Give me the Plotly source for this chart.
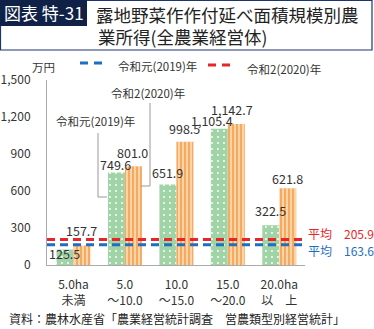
import plotly.graph_objects as go

categories = ["5.0ha<br>未満", "5.0<br>～10.0", "10.0<br>～15.0", "15.0<br>～20.0", "20.0ha<br>以　上"]
values_2019 = [125.5, 749.6, 651.9, 1105.4, 322.5]
values_2020 = [157.7, 801.0, 998.5, 1142.7, 621.8]
avg_2019 = 163.6
avg_2020 = 205.9
y_ticks = [0, 300, 600, 900, 1200, 1500]
y_ticktext = ["0", "300", "600", "900", "1,200", "1,500"]

W, H = 374, 329
L, R, T, B = 47, 305, 80, 265
FONT = "Noto Sans CJK JP"
TXT = "#333333"
BLUE = "#1f6fc0"
RED = "#e8262a"

def px(x):
    return (x - L) / (R - L)

def py(y):
    return (B - y) / (B - T)

fig = go.Figure()
fig.add_bar(x=categories, y=values_2019, name="令和元(2019)年",
            marker=dict(color="#a0d4a6", line=dict(width=0),
                        pattern=dict(shape=".", fgcolor="white", bgcolor="#a0d4a6",
                                     size=6, solidity=0.08, fillmode="replace")))
fig.add_bar(x=categories, y=values_2020, name="令和2(2020)年",
            marker=dict(color="#fbcf9f", line=dict(width=0),
                        pattern=dict(shape="|", fgcolor="#f5a55a", bgcolor="#fcd4a6",
                                     size=4, solidity=0.45, fillmode="replace")))

shapes = []
annos = []

def note(**kw):
    kw.setdefault("showarrow", False)
    kw.setdefault("xanchor", "center")
    kw.setdefault("yanchor", "middle")
    annos.append(kw)

# average dashed lines
for v, c in [(avg_2020, RED), (avg_2019, BLUE)]:
    shapes.append(dict(type="line", xref="paper", yref="y", x0=0, x1=px(307), y0=v, y1=v,
                       line=dict(color=c, width=3, dash="8px,5px")))
note(xref="paper", yref="y", x=px(306), y=avg_2020, yshift=6, xanchor="left",
     text="平均　205.9", font=dict(color=RED, size=12, family=FONT))
note(xref="paper", yref="y", x=px(306), y=avg_2019, yshift=-6, xanchor="left",
     text="平均　163.6", font=dict(color=BLUE, size=12, family=FONT))

# value labels: (xshift, yshift above top)
off19 = [(-9, -4), (-9, 8), (-9, 12), (-16, 8), (-9, 15)]
off20 = [(8, 15), (8, 14), (8, 13), (4, 15), (8, 10)]
for i, cat in enumerate(categories):
    note(x=cat, y=values_2019[i], xshift=off19[i][0], yshift=off19[i][1],
         text=f"{values_2019[i]:,.1f}", font=dict(size=12.5, color=TXT, family=FONT))
    note(x=cat, y=values_2020[i], xshift=off20[i][0], yshift=off20[i][1],
         text=f"{values_2020[i]:,.1f}", font=dict(size=12.5, color=TXT, family=FONT))

# callouts
grey = "#999999"
shapes.append(dict(type="path", xref="paper", yref="paper",
                   path=f"M {px(98)},{py(133)} L {px(98)},{py(197)} L {px(107)},{py(197)}",
                   line=dict(color=grey, width=1)))
shapes.append(dict(type="path", xref="paper", yref="paper",
                   path=f"M {px(150)},{py(103)} L {px(150)},{py(186)} L {px(141)},{py(186)}",
                   line=dict(color=grey, width=1)))
note(xref="paper", yref="paper", x=px(95), y=py(121), text="令和元(2019)年",
     font=dict(size=11.5, color=TXT, family=FONT))
note(xref="paper", yref="paper", x=px(147.5), y=py(93), text="令和2(2020)年",
     font=dict(size=11.5, color=TXT, family=FONT))

# legend
shapes.append(dict(type="line", xref="paper", yref="paper", x0=px(80), x1=px(104), y0=py(63), y1=py(63),
                   line=dict(color=BLUE, width=3, dash="8px,6px")))
shapes.append(dict(type="line", xref="paper", yref="paper", x0=px(208), x1=px(232), y0=py(65), y1=py(65),
                   line=dict(color=RED, width=3, dash="8px,6px")))
note(xref="paper", yref="paper", x=px(116), y=py(66), xanchor="left", text="令和元(2019)年",
     font=dict(size=11.5, color=TXT, family=FONT))
note(xref="paper", yref="paper", x=px(245), y=py(69), xanchor="left", text="令和2(2020)年",
     font=dict(size=11.5, color=TXT, family=FONT))
note(xref="paper", yref="paper", x=px(43), y=py(67), text="万円",
     font=dict(size=11.5, color=TXT, family=FONT))

# title box
NAVY = "#0f2147"
shapes.append(dict(type="rect", xref="paper", yref="paper", x0=px(0.5), x1=px(372), y0=py(0.5), y1=py(50),
                   line=dict(color="#1c3470", width=1.2), fillcolor="white"))
shapes.append(dict(type="rect", xref="paper", yref="paper", x0=px(0), x1=px(87), y0=py(0), y1=py(26),
                   line=dict(width=0), fillcolor=NAVY))
note(xref="paper", yref="paper", x=px(43.5), y=py(13), text="図表 特-31",
     font=dict(size=17, color="white", family=FONT))
note(xref="paper", yref="paper", x=px(94), y=py(14), xanchor="left",
     text="露地野菜作作付延べ面積規模別農", font=dict(size=17.5, color="#222222", family=FONT))
note(xref="paper", yref="paper", x=px(96), y=py(36), xanchor="left",
     text="業所得(全農業経営体)", font=dict(size=17.5, color="#222222", family=FONT))

# source
note(xref="paper", yref="paper", x=px(7), y=py(318), xanchor="left",
     text="資料：農林水産省「農業経営統計調査　営農類型別経営統計」",
     font=dict(size=12, color="#222222", family=FONT))

fig.update_layout(
    width=W, height=H, autosize=False,
    margin=dict(l=L, r=W - R, t=T, b=H - B, pad=0, autoexpand=False),
    paper_bgcolor="white", plot_bgcolor="white",
    barmode="group", bargap=0.34, bargroupgap=0,
    showlegend=False,
    font=dict(family=FONT, size=12, color=TXT),
    shapes=shapes, annotations=annos,
    xaxis=dict(showline=True, linecolor="#aaaaaa", linewidth=1, ticks="", automargin=False,
               ticklabelstandoff=9,
               tickfont=dict(size=12, color=TXT, family=FONT), showgrid=False),
    yaxis=dict(range=[0, 1500], tickvals=y_ticks, ticktext=y_ticktext, showline=True, automargin=False,
               linecolor="#aaaaaa", linewidth=1, ticks="", showgrid=False, zeroline=False,
               ticklabelstandoff=13, tickfont=dict(size=12, color=TXT, family=FONT)),
)
fig.write_html("out.html")
